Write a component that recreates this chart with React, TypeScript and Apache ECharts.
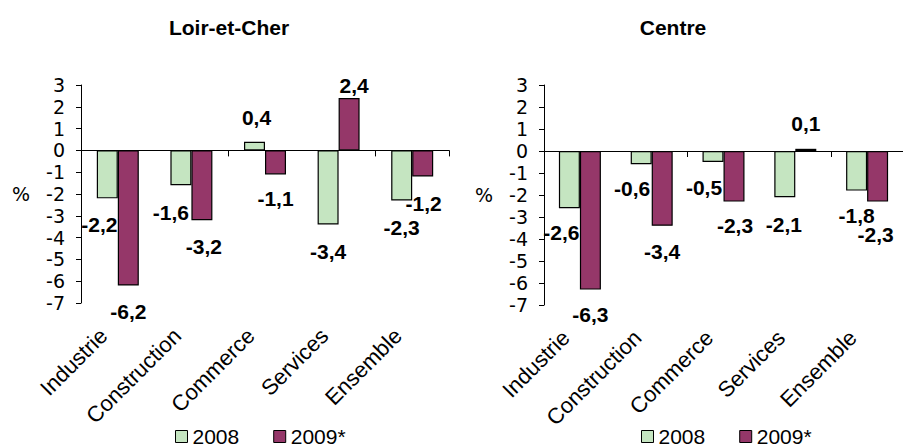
import React, { useEffect, useRef } from "react";
import * as echarts from "echarts";

const categories = ["Industrie", "Construction", "Commerce", "Services", "Ensemble"];
const years = ["2008", "2009*"];
const chartTitles = ["Loir-et-Cher", "Centre"];
const loir2008 = [-2.2, -1.6, 0.4, -3.4, -2.3];
const loir2009 = [-6.2, -3.2, -1.1, 2.4, -1.2];
const centre2008 = [-2.6, -0.6, -0.5, -2.1, -1.8];
const centre2009 = [-6.3, -3.4, -2.3, 0.1, -2.3];
const yMin = -7;
const yMax = 3;
const yStep = 1;

// label nudges (style only)
const shiftLoir2008 = [[-8, 2], [-10, 3], [2, 0], [0, 2], [0, 2]];
const shiftLoir2009 = [[0, 1], [2, 2], [0, 0], [5, 12], [1, 2]];
const shiftCentre2008 = [[-8, 0], [-9, 0], [-9, 1], [-1, 3], [0, 0]];
const shiftCentre2009 = [[0, 0], [0, 1], [1, -1], [0, -1], [-2, 8]];

const GREEN = "#c5e5c1";
const PLUM = "#953769";
const FONT = "'Liberation Sans', Arial, sans-serif";
const TICKFONT = "'DejaVu Sans', sans-serif";

const fmt = (v: number) => v.toFixed(1).replace(".", ",");

function barSeries(name: string, values: number[], shifts: number[][], color: string, axis: number) {
  return {
    type: "bar",
    name,
    xAxisIndex: axis * 2,
    yAxisIndex: axis,
    barWidth: 21,
    barGap: "0%",
    itemStyle: { color, borderColor: "#000", borderWidth: 1.2 },
    label: {
      show: true,
      distance: 14,
      fontSize: 21,
      fontWeight: "bold",
      fontFamily: FONT,
      color: "#000",
      formatter: (p: any) => fmt(p.value),
    },
    data: values.map((v, i) => ({
      value: v,
      label: { position: v < 0 ? "bottom" : "top", offset: shifts[i] },
    })),
  };
}

function xAxes(gi: number) {
  return [
    {
      gridIndex: gi,
      type: "category",
      data: categories,
      position: "bottom",
      axisLine: { show: true, onZero: true, lineStyle: { color: "#000", width: 1 } },
      axisTick: { show: true, length: 6, lineStyle: { color: "#000" } },
      axisLabel: { show: false },
    },
    {
      gridIndex: gi,
      type: "category",
      data: categories,
      position: "bottom",
      axisLine: { show: false, onZero: false },
      axisTick: { show: false },
      axisLabel: {
        show: true,
        interval: 0,
        rotate: 45,
        margin: 15,
        fontSize: 22,
        fontFamily: FONT,
        color: "#000",
        padding: [0, 20, 0, 0],
      },
    },
  ];
}

function yAxis(gi: number) {
  return {
    gridIndex: gi,
    type: "value",
    min: yMin,
    max: yMax,
    interval: yStep,
    name: "%",
    nameLocation: "middle",
    nameRotate: 0,
    nameGap: 51,
    nameTextStyle: { fontSize: 19, color: "#000", fontFamily: TICKFONT },
    axisLine: { show: true, lineStyle: { color: "#000", width: 1 } },
    axisTick: { show: true, length: 5, lineStyle: { color: "#000" } },
    axisLabel: { fontSize: 19, color: "#000", margin: 16, fontFamily: TICKFONT },
    splitLine: { show: false },
  };
}

function legend(left: number) {
  return {
    data: years,
    left,
    top: 421,
    icon: "rect",
    itemWidth: 12,
    itemHeight: 12,
    itemGap: 34,
    itemStyle: { borderColor: "#000", borderWidth: 1 },
    textStyle: { fontSize: 21, color: "#000", fontFamily: FONT },
  };
}

export default function App() {
  const ref = useRef<HTMLDivElement>(null);
  useEffect(() => {
    if (!ref.current) return;
    const chart = echarts.init(ref.current, undefined, { renderer: "svg" });
    chart.setOption({
      animation: false,
      backgroundColor: "#fff",
      textStyle: { fontFamily: FONT },
      title: [
        { text: chartTitles[0], left: 224, top: 12, textAlign: "center", textStyle: { fontSize: 21, fontWeight: "bold", color: "#000", fontFamily: FONT } },
        { text: chartTitles[1], left: 668, top: 12, textAlign: "center", textStyle: { fontSize: 21, fontWeight: "bold", color: "#000", fontFamily: FONT } },
      ],
      legend: [legend(170), legend(636)],
      grid: [
        { left: 81, top: 85, width: 368, height: 218 },
        { left: 544, top: 85, width: 368, height: 220 },
      ],
      xAxis: [...xAxes(0), ...xAxes(1)],
      yAxis: [yAxis(0), yAxis(1)],
      series: [
        barSeries(years[0], loir2008, shiftLoir2008, GREEN, 0),
        barSeries(years[1], loir2009, shiftLoir2009, PLUM, 0),
        barSeries(years[0], centre2008, shiftCentre2008, GREEN, 1),
        barSeries(years[1], centre2009, shiftCentre2009, PLUM, 1),
      ],
    });
    return () => chart.dispose();
  }, []);
  return <div ref={ref} style={{ position: "fixed", left: 0, top: 0, width: 903, height: 448 }} />;
}
